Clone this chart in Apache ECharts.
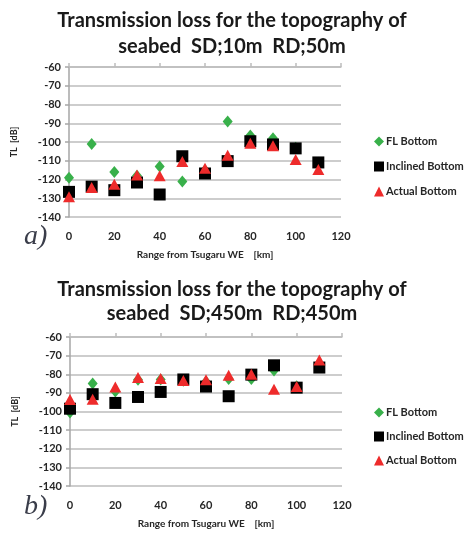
<!DOCTYPE html>
<html>
<head>
<meta charset="utf-8">
<script src="https://cdn.jsdelivr.net/npm/echarts@6/dist/echarts.min.js"></script>
<style>
html,body{margin:0;padding:0;background:#fff;}
#chart{width:476px;height:534px;}
</style>
</head>
<body>
<div id="chart"></div>
<script>
// Range (km)
var ranges = [0, 10, 20, 30, 40, 50, 60, 70, 80, 90, 100, 110];
var seriesNames = ['FL Bottom', 'Inclined Bottom', 'Actual Bottom'];
var yTicksMin = -140, yTicksMax = -60, yStep = 10;
var xTicksMin = 0, xTicksMax = 120, xStep = 20;

// Chart a) SD;10m RD;50m
var aFL       = [-119, -101, -116, -118, -113, -121, -115, -89, -96.5, -98, -103, -111];
var aInclined = [-126.6, -123.8, -125.7, -121.6, -128, -107.6, -116.8, -110.2, -99.6, -101.3, -103.4, -110.9];
var aActual   = [-129.2, -124.2, -122.5, -117.6, -118, -110.4, -114, -107, -100.6, -102, -109.3, -114.6];

// Chart b) SD;450m RD;450m
var bFL       = [-100.5, -85, -89.3, -83, -82.8, -83.5, -84, -82.5, -82.5, -78, -86.5, -75];
var bInclined = [-98.5, -90.7, -95.4, -92.2, -89.5, -82.8, -86.6, -91.8, -80.2, -75.2, -87.2, -76.4];
var bActual   = [-93.5, -93.4, -86.8, -81.8, -82.3, -83.4, -82.9, -80.5, -80, -88.1, -86.6, -72.4];

var titleA = 'Transmission loss for the topography of\nseabed  SD;10m  RD;50m';
var titleB = 'Transmission loss for the topography of\nseabed  SD;450m  RD;450m';
var xName = 'Range from Tsugaru WE    [km]';
var yName = 'TL  [dB]';

function pairs(vals) { return ranges.map(function (r, i) { return [r, vals[i]]; }); }

var green = '#38B04A', black = '#000000', red = '#EE2B2B';
var fontFam = 'Lato, "Open Sans", sans-serif';
var txtCol = '#262626';

function mkX(gi) {
  return [{
    type: 'value', gridIndex: gi, position: 'bottom', min: xTicksMin, max: xTicksMax, interval: xStep,
    axisLine: { show: false }, axisTick: { show: false }, splitLine: { show: false },
    axisLabel: { color: txtCol, fontSize: 11, fontWeight: 'bold', fontFamily: fontFam, margin: 14 },
    name: xName, nameLocation: 'middle', nameGap: 33,
    nameTextStyle: { color: txtCol, fontSize: 10, fontWeight: 'bold', fontFamily: fontFam }
  }, {
    type: 'value', gridIndex: gi, position: 'top', min: xTicksMin, max: xTicksMax, interval: xStep,
    axisLine: { show: true, lineStyle: { color: '#BDBDBD', width: 1.5 } },
    axisTick: { show: true, length: 4, lineStyle: { color: '#BDBDBD', width: 1.5 } },
    axisLabel: { show: false }, splitLine: { show: false }
  }];
}
function mkY(gi) {
  return {
    type: 'value', gridIndex: gi, min: yTicksMin, max: yTicksMax, interval: yStep,
    axisLine: { show: true, lineStyle: { color: '#A6A6A6', width: 1.5 } },
    axisTick: { show: true, length: 4, lineStyle: { color: '#A6A6A6', width: 1.5 } },
    splitLine: { show: true, lineStyle: { color: '#BDBDBD', width: 1.5 } },
    axisLabel: { color: txtCol, fontSize: 11, fontWeight: 'bold', fontFamily: fontFam, margin: 8 },
    name: yName, nameLocation: 'middle', nameGap: 50, nameRotate: 90,
    nameTextStyle: { color: txtCol, fontSize: 9, fontWeight: 'bold', fontFamily: fontFam }
  };
}
function mkSeries(xi, yi, fl, inc, act) {
  return [
    { name: seriesNames[0], type: 'scatter', xAxisIndex: xi, yAxisIndex: yi, data: pairs(fl),
      symbol: 'diamond', symbolSize: [10, 12], itemStyle: { color: green, opacity: 1 } },
    { name: seriesNames[1], type: 'scatter', xAxisIndex: xi, yAxisIndex: yi, data: pairs(inc),
      symbol: 'rect', symbolSize: 12, itemStyle: { color: black, opacity: 1 } },
    { name: seriesNames[2], type: 'scatter', xAxisIndex: xi, yAxisIndex: yi, data: pairs(act),
      symbol: 'triangle', symbolSize: [12, 11], itemStyle: { color: red, opacity: 1 } }
  ];
}
function mkLegend(top, gap) {
  return {
    data: seriesNames, orient: 'vertical', left: 369, top: top, itemGap: gap,
    itemWidth: 10, itemHeight: 10, selectedMode: false,
    textStyle: { color: txtCol, fontSize: 11, fontWeight: 'bold', fontFamily: fontFam, padding: [0, 0, 0, -3] }
  };
}

var chart = echarts.init(document.getElementById('chart'), null, { renderer: 'canvas' });
var xa = mkX(0).concat(mkX(1));
chart.setOption({
  backgroundColor: '#ffffff',
  animation: false,
  title: [
    { text: titleA, left: 227, top: 3, textAlign: 'center',
      textStyle: { color: '#1a1a1a', fontSize: 20, fontWeight: 'bold', fontFamily: fontFam, lineHeight: 26 } },
    { text: titleB, left: 227, top: 273, textAlign: 'center',
      textStyle: { color: '#1a1a1a', fontSize: 20, fontWeight: 'bold', fontFamily: fontFam, lineHeight: 24 } }
  ],
  legend: [mkLegend(131, 14), mkLegend(402, 13)],
  grid: [
    { left: 69, top: 67, width: 272, height: 150 },
    { left: 70, top: 337, width: 272, height: 149 }
  ],
  xAxis: xa,
  yAxis: [mkY(0), mkY(1)],
  series: mkSeries(0, 0, aFL, aInclined, aActual).concat(mkSeries(2, 1, bFL, bInclined, bActual)),
  graphic: [
    { type: 'text', left: 24, top: 223, style: { text: 'a)', fill: '#3a3d4a', font: 'italic 28px "Liberation Serif", serif' } },
    { type: 'text', left: 24, top: 493, style: { text: 'b)', fill: '#3a3d4a', font: 'italic 28px "Liberation Serif", serif' } }
  ]
});
</script>
</body>
</html>
